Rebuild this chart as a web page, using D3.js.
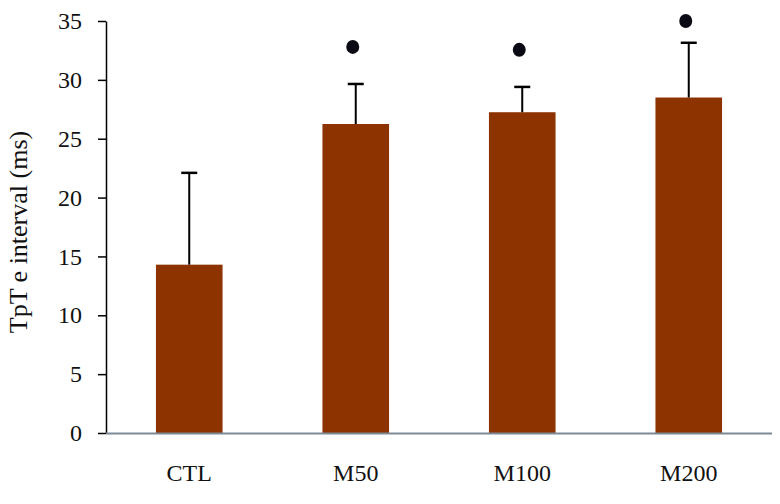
<!DOCTYPE html>
<html>
<head>
<meta charset="utf-8">
<script src="https://cdn.jsdelivr.net/npm/d3@7"></script>
<style>
  html, body { margin: 0; padding: 0; background: #fff; }
  svg { display: block; }
  text { font-family: "Liberation Serif", "DejaVu Serif", serif; fill: #111; }
</style>
</head>
<body>
<svg id="chart" width="780" height="504"></svg>
<script>
const categories = ["CTL", "M50", "M100", "M200"];
const means = [14.3, 26.25, 27.25, 28.5];
const errorTops = [22.1, 29.65, 29.4, 33.15];
const markerValues = [null, 32.8, 32.55, 35.0];
const yTicks = [0, 5, 10, 15, 20, 25, 30, 35];
const yLabel = "TpT e interval (ms)";

const svg = d3.select("#chart");
const mLeft = 106, mRight = 772, mTop = 21, mBottom = 433;

const x = d3.scaleBand().domain(categories).range([mLeft, mRight])
  .paddingInner(0.6).paddingOuter(0.3);
const y = d3.scaleLinear().domain([0, 35]).range([mBottom, mTop]);

// bars
svg.selectAll("rect.bar").data(categories).enter().append("rect")
  .attr("class", "bar")
  .attr("x", d => x(d))
  .attr("width", x.bandwidth())
  .attr("y", (d, i) => y(means[i]))
  .attr("height", (d, i) => y(0) - y(means[i]))
  .attr("fill", "#8c3300");

// error bars (upper only)
const cx = d => x(d) + x.bandwidth() / 2;
svg.selectAll("line.err").data(categories).enter().append("line")
  .attr("x1", cx).attr("x2", cx)
  .attr("y1", (d, i) => y(means[i]))
  .attr("y2", (d, i) => y(errorTops[i]))
  .attr("stroke", "#000").attr("stroke-width", 2);
svg.selectAll("line.cap").data(categories).enter().append("line")
  .attr("x1", d => cx(d) - 8).attr("x2", d => cx(d) + 8)
  .attr("y1", (d, i) => y(errorTops[i]))
  .attr("y2", (d, i) => y(errorTops[i]))
  .attr("stroke", "#000").attr("stroke-width", 2.5);

// significance markers
svg.selectAll("ellipse.sig").data(categories.filter((d, i) => markerValues[i] != null))
  .enter().append("ellipse")
  .attr("cx", d => cx(d) - 3)
  .attr("cy", d => y(markerValues[categories.indexOf(d)]))
  .attr("rx", 6.5).attr("ry", 7)
  .attr("fill", "#0a0a14");

// y axis
const yAxis = d3.axisLeft(y).tickValues(yTicks).tickSize(8).tickSizeOuter(0).tickPadding(16);
const gy = svg.append("g").attr("transform", `translate(${mLeft},0)`).call(yAxis);
gy.select(".domain").attr("stroke", "#000").attr("stroke-width", 1.5);
gy.selectAll(".tick line").attr("stroke", "#000").attr("stroke-width", 1.5);
gy.selectAll(".tick text").attr("font-size", 24).attr("font-family", "Liberation Serif").attr("fill", "#111");

// x baseline
const xAxis = d3.axisBottom(x).tickSize(0).tickPadding(0);
const gx = svg.append("g").attr("transform", `translate(0,${mBottom})`).call(xAxis);
gx.select(".domain").attr("d", `M${mLeft},0.5H${mRight}`).attr("stroke", "#7d8a96").attr("stroke-width", 2);
gx.selectAll(".tick text").attr("dy", 0).attr("y", 48)
  .attr("font-size", 24).attr("font-family", "Liberation Serif").attr("fill", "#111");

// y label
svg.append("text")
  .attr("transform", `translate(27,${(mTop + mBottom) / 2 + 5}) rotate(-90)`)
  .attr("text-anchor", "middle")
  .attr("font-size", 26)
  .text(yLabel);
</script>
</body>
</html>
